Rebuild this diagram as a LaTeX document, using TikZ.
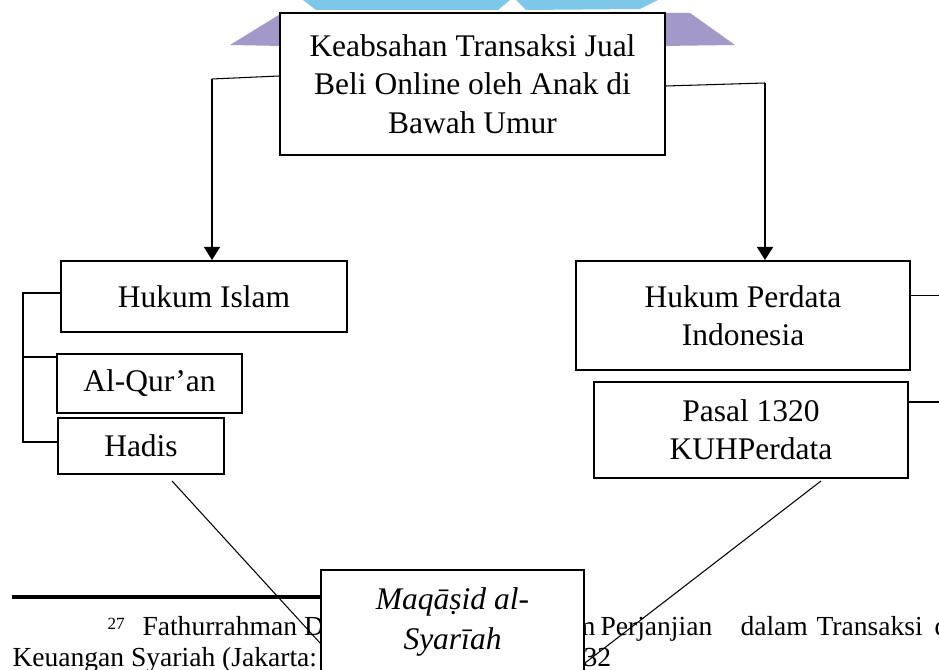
\documentclass[tikz,border=0pt]{standalone}
\usepackage{fontspec}
\setmainfont{Liberation Serif}
\usetikzlibrary{arrows.meta}
\newlength{\pxu}
\setlength{\pxu}{0.381pt}
\definecolor{wmblue}{RGB}{125,200,232}
\definecolor{wmpurple}{RGB}{163,152,200}

\begin{document}
\begin{tikzpicture}[x=0.381pt,y=-0.381pt,
    box/.style={draw, line width=0.75pt, fill=white, align=center, inner sep=0pt, font=\fontsize{12}{14.6}\selectfont},
    thinl/.style={line width=0.4pt},
    arr/.style={line width=0.75pt, -{Triangle[width=6.1pt,length=5pt]}},
    fnote/.style={anchor=base west, inner sep=0pt, font=\fontsize{10.5}{12}\selectfont}]
    \useasboundingbox (0,0) rectangle (939,670);
    % watermark
    \fill[wmpurple] (230,45) -- (282,13) -- (282,46) -- cycle;
    \fill[wmpurple] (663,13) -- (690,13) -- (735,45) -- (663,46) -- cycle;
    \fill[wmblue] (303,0) -- (316,10) -- (498,10) -- (510,0) -- cycle;
    \fill[wmblue] (516,0) -- (526,10) -- (640,9) -- (658,0) -- cycle;
    % footnote
    \draw[line width=1.2pt] (12,597) -- (330,597);
    \node[fnote, font=\fontsize{6.5}{7}\selectfont] (fnum) at (107,630) {27};
    \node[fnote] (fn1) at (142,636) {Fathurrahman D};
    \node[fnote, anchor=base east] (fn2) at (596,636) {m};
    \node[fnote] (fn3) at (600,636) {Perjanjian};
    \node[fnote] (fn4) at (740,636) {dalam};
    \node[fnote] (fn5) at (816,636) {Transaksi};
    \node[fnote] (fn6) at (934,636) {d};
    \node[fnote] (fn7) at (12,667) {Keuangan Syariah (Jakarta: S};
    \node[fnote] (fn8) at (583,667) {32};
    % boxes
    \node[box, minimum width=385\pxu, minimum height=142\pxu] (top) at (472.5,84) {Keabsahan Transaksi Jual\\ Beli Online oleh Anak di\\ Bawah Umur};
    \node[box, minimum width=286\pxu, minimum height=71\pxu] (islam) at (204,296.5) {Hukum Islam};
    \node[box, minimum width=185\pxu, minimum height=59\pxu] (quran) at (149.5,383.5) {Al-Qur’an};
    \node[box, minimum width=166\pxu, minimum height=56\pxu] (hadis) at (141,446) {Hadis};
    \node[box, minimum width=334\pxu, minimum height=109\pxu] (perdata) at (743,315.5) {Hukum Perdata\\ Indonesia};
    \node[box, minimum width=314\pxu, minimum height=96\pxu] (pasal) at (751,430) {Pasal 1320\\ KUHPerdata};
    \node[box, anchor=north, minimum width=263\pxu, minimum height=150\pxu] (maqasid) at (452.5,569) {};
    \node[anchor=base, inner sep=0pt, font=\fontsize{12}{14.6}\selectfont\itshape] (mq1) at (452.5,610) {Maqāṣid al-};
    \node[anchor=base, inner sep=0pt, font=\fontsize{12}{14.6}\selectfont\itshape] (mq2) at (452.5,650) {Syarīah};
    % connectors
    \coordinate (lk) at (212,79);
    \coordinate (rk) at (765,83);
    \draw[thinl] ([yshift=8\pxu]top.west) -- (lk);
    \draw[arr] (lk) -- (lk |- islam.north);
    \draw[thinl] ([yshift=-2\pxu]top.east) -- (rk);
    \draw[arr] (rk) -- (rk |- perdata.north);
    \draw[thinl] ([yshift=3.5\pxu]islam.west) -- ++(-37,0) |- ([yshift=4\pxu]hadis.west);
    \draw[thinl] ([yshift=-4\pxu]quran.north west) -- ++(-33,0);
    \draw[thinl] ([yshift=20\pxu]perdata.east) -- ++(29,0);
    \draw[thinl] ([yshift=28\pxu]pasal.east) -- ++(31,0);
    \draw[thinl] ([xshift=31\pxu,yshift=-6\pxu]hadis.south) -- ([yshift=-74\pxu]maqasid.north west);
    \draw[thinl] ([xshift=70\pxu,yshift=-2\pxu]pasal.south) -- ([yshift=-94\pxu]maqasid.north east);
\end{tikzpicture}
\end{document}
